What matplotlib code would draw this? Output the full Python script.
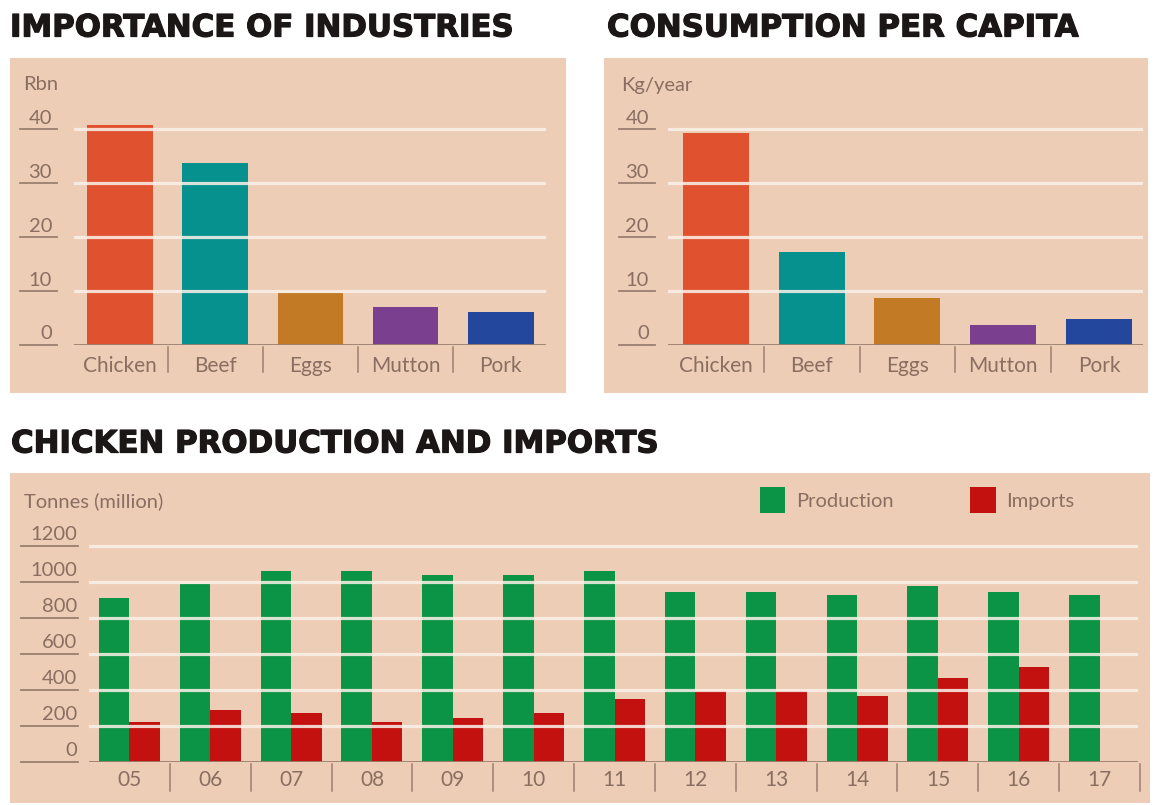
import matplotlib
matplotlib.use("Agg")
import matplotlib.pyplot as plt
from matplotlib.patches import Rectangle
import matplotlib.transforms as mtransforms
import matplotlib.patheffects as pe

# ---------------- data ----------------
categories = ["Chicken", "Beef", "Eggs", "Mutton", "Pork"]
industry_value = [40.8, 33.7, 9.7, 7.1, 6.2]          # Rbn
consumption_value = [39.4, 17.3, 8.7, 3.65, 4.9]      # Kg/year
cat_colors = ["#E0512F", "#06918F", "#C27A25", "#7A3F8E", "#24479E"]
top_ticks = [0, 10, 20, 30, 40]

years = ["05", "06", "07", "08", "09", "10", "11", "12", "13", "14", "15", "16", "17"]
production = [913, 991, 1059, 1059, 1041, 1041, 1059, 944, 944, 930, 976, 944, 930]
imports = [222, 287, 269, 222, 241, 269, 350, 394, 394, 365, 463, 528, None]
bottom_ticks = [0, 200, 400, 600, 800, 1000, 1200]

# ---------------- style ----------------
W, H = 1157, 805
BG = "#EDCDB6"
TXT = "#8A6E61"
LINE = "#9C8070"
GRID = "#FBF2EA"
GREEN = "#0C9446"
RED = "#C3110F"
TITLE_COLOR = "#1B1717"
TITLE_FONT = dict(family=["DejaVu Sans"], fontweight="bold", color=TITLE_COLOR,
                  path_effects=[pe.withStroke(linewidth=0.9, foreground=TITLE_COLOR)])
BODY_FONT = dict(family=["Lato", "DejaVu Sans"], fontweight="normal", color=TXT)

fig = plt.figure(figsize=(W / 100, H / 100), dpi=100)
fig.patch.set_facecolor("white")


def fx(px):
    return px / W


def fy(py):
    return 1 - py / H


def panel(x0, y0, x1, y1):
    fig.add_artist(Rectangle((fx(x0), fy(y1)), (x1 - x0) / W, (y1 - y0) / H,
                             transform=fig.transFigure, facecolor=BG,
                             edgecolor="none", zorder=0))


def axes_px(x0, x1, ytop, ybot):
    ax = fig.add_axes([x0 / W, 1 - ybot / H, (x1 - x0) / W, (ybot - ytop) / H])
    ax.patch.set_alpha(0)
    for s in ax.spines.values():
        s.set_visible(False)
    ax.set_xticks([])
    ax.set_yticks([])
    return ax


def decorate(ax, x0, x1, ytop, ybot, ticks, lab_right, ul0, ul1,
             xlabels, sep_positions, sep_px, lab_px):
    axw = x1 - x0
    axh = ybot - ytop
    yt = ax.get_yaxis_transform()
    xt = ax.get_xaxis_transform()
    for v in ticks:
        if v != 0:
            ax.axhline(v, color=GRID, lw=2.3, alpha=0.85, zorder=5)
        ax.plot([(ul0 - x0) / axw, (ul1 - x0) / axw], [v, v], transform=yt,
                color=LINE, lw=1.3, clip_on=False, zorder=5)
        off = mtransforms.offset_copy(yt, fig=fig, x=0, y=4, units="points")
        ax.text((lab_right - x0) / axw, v, str(v), transform=off, ha="right",
                va="baseline", fontsize=14.5, **BODY_FONT)
    ax.axhline(0, color=LINE, lw=1.3, zorder=6)
    for s in sep_positions:
        ax.plot([s, s], [-2 / axh, -sep_px / axh], transform=xt, color=LINE,
                lw=1.1, clip_on=False)
    for i, lab in enumerate(xlabels):
        ax.text(i, -lab_px / axh, lab, transform=xt, ha="center", va="center",
                fontsize=15, **BODY_FONT)


# ---------------- titles ----------------
fig.text(fx(10), fy(28), "IMPORTANCE OF INDUSTRIES", ha="left", va="center",
         fontsize=22.2, **TITLE_FONT)
fig.text(fx(607), fy(28), "CONSUMPTION PER CAPITA", ha="left", va="center",
         fontsize=22.2, **TITLE_FONT)
fig.text(fx(11), fy(444), "CHICKEN PRODUCTION AND IMPORTS", ha="left", va="center",
         fontsize=22.2, **TITLE_FONT)

# ---------------- panel 1 ----------------
panel(10, 58, 566, 393)
X0, X1, YT, YB = 74, 546, 107.7, 345
ax1 = axes_px(X0, X1, YT, YB)
ax1.set_xlim(-0.483, 4.475)
ax1.set_ylim(0, 44)
ax1.bar(range(len(categories)), industry_value, width=0.69, color=cat_colors, zorder=2)
decorate(ax1, X0, X1, YT, YB, top_ticks, 52, 20, 57, categories,
         [0.5, 1.5, 2.5, 3.5], 27, 21)
fig.text(fx(23), fy(85), "Rbn", ha="left", va="center", fontsize=14.5, **BODY_FONT)

# ---------------- panel 2 ----------------
panel(604, 58, 1148, 393)
X0, X1, YT, YB = 668, 1143, 107.7, 345
ax2 = axes_px(X0, X1, YT, YB)
ax2.set_xlim(-0.50, 4.46)
ax2.set_ylim(0, 44)
ax2.bar(range(len(categories)), consumption_value, width=0.69, color=cat_colors, zorder=2)
decorate(ax2, X0, X1, YT, YB, top_ticks, 649, 619, 655, categories,
         [0.5, 1.5, 2.5, 3.5], 27, 21)
fig.text(fx(621), fy(85), "Kg/year", ha="left", va="center", fontsize=14.5, **BODY_FONT)

# ---------------- panel 3 ----------------
panel(10, 473, 1150, 803)
X0, X1, YT, YB = 89, 1137.6, 528, 761.7
ax3 = axes_px(X0, X1, YT, YB)
ax3.set_xlim(-0.5, 12.47)
ax3.set_ylim(0, 1300)
w = 0.377
xs = list(range(len(years)))
ax3.bar([x - w / 2 for x in xs], production, width=w, color=GREEN, zorder=2,
        label="Production")
imp_x = [x + w / 2 for x, v in zip(xs, imports) if v is not None]
imp_v = [v for v in imports if v is not None]
ax3.bar(imp_x, imp_v, width=w, color=RED, zorder=2, label="Imports")
decorate(ax3, X0, X1, YT, YB, bottom_ticks, 77, 21, 78, years,
         [i + 0.5 for i in range(len(years))], 29, 18)
fig.text(fx(24), fy(501), "Tonnes (million)", ha="left", va="center",
         fontsize=14.5, **BODY_FONT)

# legend
for (px0, px1, tx, lab, col) in [(760, 785, 796, "Production", GREEN),
                                  (970, 996, 1006, "Imports", RED)]:
    fig.add_artist(Rectangle((fx(px0), fy(513)), (px1 - px0) / W, 26 / H,
                             transform=fig.transFigure, facecolor=col,
                             edgecolor="none", zorder=3))
    fig.text(fx(tx), fy(501), lab, ha="left", va="center", fontsize=14.5, **BODY_FONT)

fig.savefig("out.png", dpi=100, facecolor="white")
